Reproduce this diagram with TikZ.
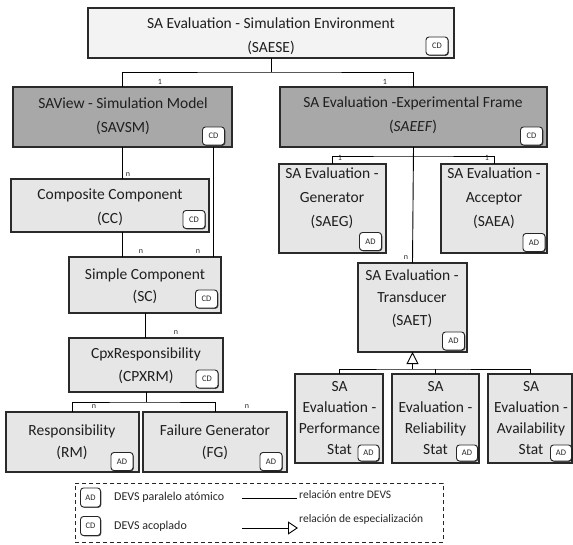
\documentclass[tikz,border=0pt]{standalone}
\usepackage{fontspec}
\setmainfont{Carlito}
\usetikzlibrary{arrows.meta,shadows}
\definecolor{boxlight}{HTML}{E6E6E6}
\definecolor{boxtop}{HTML}{F3F3F3}
\definecolor{boxdark}{HTML}{A8A8A8}
\definecolor{edgecol}{HTML}{2A2A2A}
\begin{document}
\begin{tikzpicture}[x=1pt,y=-1pt,
  mbox/.style={draw=edgecol, line width=1.1pt, fill=boxlight, rectangle, anchor=north west, inner sep=0pt, outer sep=0pt},
  txt/.style={align=center, anchor=base, inner sep=0pt, text=black!88, font=\fontsize{15.5}{24}\selectfont},
  stattxt/.style={txt, font=\fontsize{15.5}{21}\selectfont},
  badge/.style={draw=black!85, line width=0.9pt, fill=white, rounded corners=3pt, minimum width=22pt, minimum height=18pt, inner sep=0pt, text=black!85, font=\fontsize{8.5}{10}\selectfont, drop shadow={shadow xshift=0.8pt, shadow yshift=-0.8pt, opacity=0.7, fill=black}},
  lnk/.style={draw=black, line width=0.9pt},
  mult/.style={inner sep=0pt, text=black!85, font=\fontsize{8}{9}\selectfont},
  lgtxt/.style={anchor=west, inner sep=0pt, text=black!85, font=\fontsize{12}{14}\selectfont},
  lgtxtb/.style={anchor=west, inner sep=0pt, text=black!85, font=\fontsize{11.5}{13}\selectfont},
]
\useasboundingbox (0,0) rectangle (573,544);

% ---------- boxes ----------
\node[mbox, fill=boxtop, minimum width=366pt, minimum height=50pt] (saese) at (88,8) {};
\node[mbox, fill=boxdark, minimum width=219pt, minimum height=60pt] (savsm) at (13,87) {};
\node[mbox, fill=boxdark, minimum width=267pt, minimum height=60pt] (saeef) at (280,87) {};
\node[mbox, minimum width=198pt, minimum height=53pt] (cc) at (11,179) {};
\node[mbox, minimum width=152pt, minimum height=56pt] (sc) at (69,257) {};
\node[mbox, minimum width=154pt, minimum height=54pt] (cpx) at (69,338) {};
\node[mbox, minimum width=133pt, minimum height=60pt] (rm) at (6,412) {};
\node[mbox, minimum width=144pt, minimum height=60pt] (fg) at (143,412) {};
\node[mbox, minimum width=107pt, minimum height=89pt] (saeg) at (279,164) {};
\node[mbox, minimum width=106pt, minimum height=89pt] (saea) at (441,164) {};
\node[mbox, minimum width=109pt, minimum height=89pt] (saet) at (358,263) {};
\node[mbox, minimum width=88pt, minimum height=89pt] (st1) at (295,374) {};
\node[mbox, minimum width=87pt, minimum height=89pt] (st2) at (392,374) {};
\node[mbox, minimum width=84pt, minimum height=89pt] (st3) at (488,374) {};

% ---------- texts (anchored at the baseline of the last line) ----------
\node[txt] (saese-t) at (271,52) {SA Evaluation - Simulation Environment\\(SAESE)};
\node[txt] (savsm-t) at (123,132) {SAView - Simulation Model\\(SAVSM)};
\node[txt] (saeef-t) at (413,131) {SA Evaluation -Experimental Frame\\(\textit{SAEEF})};
\node[txt] (cc-t) at (110,223) {Composite Component\\(CC)};
\node[txt, font=\fontsize{15.5}{22}\selectfont] (sc-t) at (145,301) {Simple Component\\(SC)};
\node[txt, font=\fontsize{15.5}{23}\selectfont] (cpx-t) at (146,381) {CpxResponsibility\\(CPXRM)};
\node[txt, font=\fontsize{15.5}{22}\selectfont] (rm-t) at (72,457) {Responsibility\\(RM)};
\node[txt, font=\fontsize{15.5}{22}\selectfont] (fg-t) at (215,457) {Failure Generator\\(FG)};
\node[txt] (saeg-t) at (332,226) {SA Evaluation -\\Generator\\(SAEG)};
\node[txt] (saea-t) at (494,226) {SA Evaluation -\\Acceptor\\(SAEA)};
\node[txt, font=\fontsize{15.5}{22.5}\selectfont] (saet-t) at (412,325) {SA Evaluation -\\Transducer\\(SAET)};
\node[stattxt] (st1-t) at (339.5,454) {SA\\Evaluation -\\Performance\\Stat};
\node[stattxt] (st2-t) at (435.5,454) {SA\\Evaluation -\\Reliability\\Stat};
\node[stattxt] (st3-t) at (531,454) {SA\\Evaluation -\\Availability\\Stat};

% ---------- badges ----------
\node[badge] (saese-b) at (437,46) {CD};
\node[badge] (savsm-b) at (213.5,136) {CD};
\node[badge] (saeef-b) at (531.5,136) {CD};
\node[badge] (cc-b) at (194,219.5) {CD};
\node[badge] (sc-b) at (206.5,299) {CD};
\node[badge] (cpx-b) at (207,379) {CD};
\node[badge] (rm-b) at (122,461.5) {AD};
\node[badge] (fg-b) at (271,461.5) {AD};
\node[badge] (saeg-b) at (370.5,241.5) {AD};
\node[badge] (saea-b) at (534,242.5) {AD};
\node[badge] (saet-b) at (453.5,341) {AD};
\node[badge, minimum width=21pt, minimum height=16pt] (st1-b) at (368.5,453) {AD};
\node[badge, minimum width=21pt, minimum height=16pt] (st2-b) at (467,453) {AD};
\node[badge, minimum width=21pt, minimum height=16pt] (st3-b) at (561,453) {AD};

% ---------- connectors ----------
\draw[lnk] (saese.south) -- ++(0,14) coordinate (j0);
\draw[lnk] (savsm.north) |- (j0) -| (saeef.north);
\node[mult] (m1) at (160,82) {1};
\node[mult] (m2) at (385,82) {1};

\coordinate (pv) at (213,147);
\draw[lnk] (savsm.south) -- (savsm.south |- cc.north);
\draw[lnk] (pv) -- (pv |- sc.north);
\draw[lnk] (cc.south -| savsm.south) -- (savsm.south |- sc.north);
\node[mult] (m3) at (128,175) {n};
\node[mult] (m4) at (141,252) {n};
\node[mult] (m5) at (198,252) {n};

\draw[lnk] (sc.south) -- (sc.south |- cpx.north);
\node[mult] (m6) at (176,333) {n};

\draw[lnk] (cpx.south) -- ++(0,10) coordinate (j3);
\draw[lnk] (rm.north) |- (j3) -| (fg.north);
\node[mult] (m7) at (94,407) {n};
\node[mult] (m8) at (247,407) {n};

\draw[lnk] (saeef.south) -- (saet.north);
\path (saeef.south) ++(0,9) coordinate (j1);
\draw[lnk] (saeg.north) |- (j1) -| (saea.north);
\node[mult] (m9) at (340,158) {1};
\node[mult] (m10) at (487,158) {1};
\node[mult] (m11) at (406,258) {n};

\path (saet.south) ++(0,17) coordinate (j2);
\draw[lnk, -{Triangle[open, length=12pt, width=12pt, line width=0.9pt]}] (j2) -- (saet.south);
\draw[lnk] (st1.north) |- (j2) -| (st3.north);
\draw[lnk] (st2.north) -- (st2.north |- j2);

% ---------- legend ----------
\node[draw=black!85, line width=0.9pt, dash pattern=on 4pt off 3pt, rectangle, anchor=north west, inner sep=0pt, minimum width=368pt, minimum height=59pt] (legend) at (75,483) {};
\node[badge, minimum width=20pt, minimum height=19pt] (lg-ad) at (90.5,497.5) {AD};
\node[badge, minimum width=20pt, minimum height=19pt] (lg-cd) at (90.5,526) {CD};
\node[lgtxt] (lg-t1) at (114,497) {DEVS paralelo atómico};
\node[lgtxt] (lg-t2) at (114,526) {DEVS acoplado};
\coordinate (l1a) at (242,498);
\coordinate (l1b) at (297,498);
\draw[lnk] (l1a) -- (l1b);
\coordinate (l2a) at (242,528);
\coordinate (l2b) at (298,528);
\draw[lnk, -{Triangle[open, length=10pt, width=13pt, line width=0.9pt]}] (l2a) -- (l2b);
\node[lgtxtb] (lg-t3) at (299,495) {relación entre DEVS};
\node[lgtxtb] (lg-t4) at (299,519) {relación de especialización};
\end{tikzpicture}
\end{document}
